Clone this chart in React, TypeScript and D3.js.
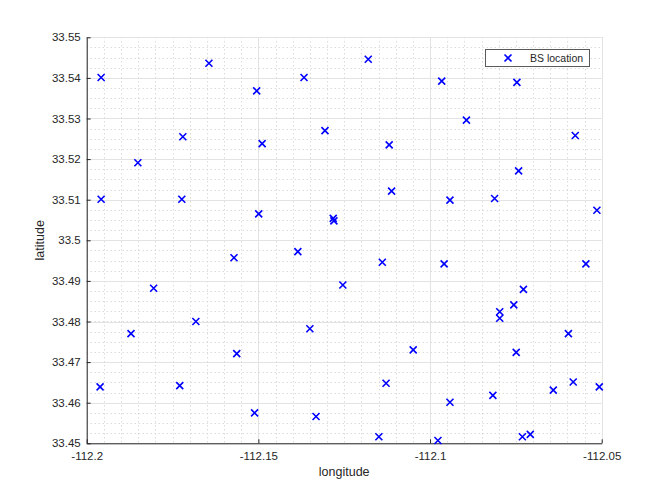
import * as React from 'react';
import { useEffect, useRef } from 'react';
import * as d3 from 'd3';

// base station coordinates
const longitude = [
  -112.1958, -112.1644, -112.1505, -112.1367, -112.1720, -112.1489, -112.1306, -112.1851,
  -112.1958, -112.1723, -112.1499, -112.1282, -112.1280, -112.1180, -112.0966, -112.0747,
  -112.0894, -112.0577, -112.1119, -112.0742, -112.1112, -112.0942, -112.0812, -112.0514,
  -112.1961, -112.1871, -112.1805, -112.1682, -112.1729, -112.1571, -112.1563, -112.1511,
  -112.1385, -112.1350, -112.1332, -112.1254, -112.1139, -112.0959, -112.0546, -112.0728,
  -112.0756, -112.0797, -112.0797, -112.0597, -112.1049, -112.0749, -112.1128, -112.0583,
  -112.0507, -112.0641, -112.0817, -112.0942, -112.1149, -112.0977, -112.0731, -112.0708,
];
const latitude = [
  33.5401, 33.5436, 33.5368, 33.5401, 33.5255, 33.5238, 33.5270, 33.5191,
  33.5101, 33.5101, 33.5065, 33.5054, 33.5048, 33.5446, 33.5392, 33.5389,
  33.5296, 33.5258, 33.5235, 33.5171, 33.5121, 33.5099, 33.5103, 33.5074,
  33.4639, 33.4770, 33.4882, 33.4800, 33.4642, 33.4957, 33.4721, 33.4575,
  33.4972, 33.4782, 33.4566, 33.4890, 33.4946, 33.4942, 33.4942, 33.4879,
  33.4841, 33.4824, 33.4808, 33.4770, 33.4730, 33.4724, 33.4648, 33.4651,
  33.4639, 33.4631, 33.4618, 33.4601, 33.4516, 33.4507, 33.4516, 33.4522,
];
const xTicks = [-112.2, -112.15, -112.1, -112.05];
const yTicks = [33.45, 33.46, 33.47, 33.48, 33.49, 33.5, 33.51, 33.52, 33.53, 33.54, 33.55];
const legendLabel = 'BS location';

const W = 664, H = 498;
const font = '"Liberation Sans", Arial, Helvetica, sans-serif';

export default function App() {
  const ref = useRef<SVGSVGElement | null>(null);

  useEffect(() => {
    if (!ref.current) return;
    const svg = d3.select(ref.current);
    svg.selectAll('*').remove();

    const left = 86.7, right = 601.7, top = 37.3, bottom = 443.3;
    const x = d3.scaleLinear().domain([-112.2, -112.05]).range([left, right]);
    const y = d3.scaleLinear().domain([33.45, 33.55]).range([bottom, top]);

    svg.append('rect').attr('width', W).attr('height', H).attr('fill', '#fff');

    // minor grid
    const minorX = d3.range(0, 31).map(i => -112.2 + i * 0.005);
    const minorY = d3.range(0, 41).map(i => 33.45 + i * 0.0025);
    const g = svg.append('g');
    g.selectAll('.mx').data(minorX).enter().append('line')
      .attr('x1', d => Math.round(x(d)) + 0.5).attr('x2', d => Math.round(x(d)) + 0.5)
      .attr('y1', top).attr('y2', bottom)
      .attr('stroke', '#cccccc').attr('stroke-width', 1).attr('stroke-dasharray', '1,3');
    g.selectAll('.my').data(minorY).enter().append('line')
      .attr('y1', d => Math.round(y(d)) + 0.5).attr('y2', d => Math.round(y(d)) + 0.5)
      .attr('x1', left).attr('x2', right)
      .attr('stroke', '#cccccc').attr('stroke-width', 1).attr('stroke-dasharray', '1,3');

    // major grid
    g.selectAll('.gx').data(xTicks).enter().append('line')
      .attr('x1', d => Math.round(x(d)) + 0.5).attr('x2', d => Math.round(x(d)) + 0.5)
      .attr('y1', top).attr('y2', bottom)
      .attr('stroke', '#e3e3e3').attr('stroke-width', 1);
    g.selectAll('.gy').data(yTicks).enter().append('line')
      .attr('y1', d => Math.round(y(d)) + 0.5).attr('y2', d => Math.round(y(d)) + 0.5)
      .attr('x1', left).attr('x2', right)
      .attr('stroke', '#e3e3e3').attr('stroke-width', 1);

    // axes (left + bottom, ticks inward)
    const axisColor = '#262626';
    const xAxis = d3.axisBottom(x).tickValues(xTicks).tickSizeInner(-4).tickSizeOuter(0)
      .tickPadding(9).tickFormat(d => String(d));
    const yAxis = d3.axisLeft(y).tickValues(yTicks).tickSizeInner(-4).tickSizeOuter(0)
      .tickPadding(6).tickFormat(d => String(d));
    const gx = svg.append('g').attr('transform', `translate(0,${bottom})`).call(xAxis);
    const gy = svg.append('g').attr('transform', `translate(${left},0)`).call(yAxis);
    [gx, gy].forEach(a => {
      a.selectAll('path, line').attr('stroke', axisColor);
      a.selectAll('text').attr('fill', axisColor).style('font-family', font).style('font-size', '11.5px');
    });

    // axis labels
    svg.append('text').attr('x', (left + right) / 2).attr('y', 476)
      .attr('text-anchor', 'middle').attr('fill', axisColor)
      .style('font-family', font).style('font-size', '12.5px').text('longitude');
    svg.append('text').attr('transform', `translate(44,${(top + bottom) / 2}) rotate(-90)`)
      .attr('text-anchor', 'middle').attr('fill', axisColor)
      .style('font-family', font).style('font-size', '12.5px').text('latitude');

    // markers
    const pts = longitude.map((lon, i) => [lon, latitude[i]] as [number, number]);
    const s = 3.5;
    const xPath = (cx: number, cy: number) =>
      `M${cx - s},${cy - s}L${cx + s},${cy + s}M${cx - s},${cy + s}L${cx + s},${cy - s}`;
    svg.append('g').selectAll('path').data(pts).enter().append('path')
      .attr('d', d => xPath(x(d[0]), y(d[1])))
      .attr('stroke', '#0000ff').attr('stroke-width', 1.6).attr('fill', 'none');

    // legend
    const lg = svg.append('g');
    lg.append('rect').attr('x', 485.5).attr('y', 49.5).attr('width', 104).attr('height', 17)
      .attr('fill', '#fff').attr('stroke', '#5a5a5a').attr('stroke-width', 1);
    lg.append('path').attr('d', xPath(508, 58))
      .attr('stroke', '#0000ff').attr('stroke-width', 1.6).attr('fill', 'none');
    lg.append('text').attr('x', 530).attr('y', 62).attr('fill', axisColor)
      .style('font-family', font).style('font-size', '10.5px').text(legendLabel);
  }, []);

  return (
    <svg ref={ref} width={W} height={H}
      style={{ position: 'absolute', left: 0, top: 0, display: 'block' }} />
  );
}
